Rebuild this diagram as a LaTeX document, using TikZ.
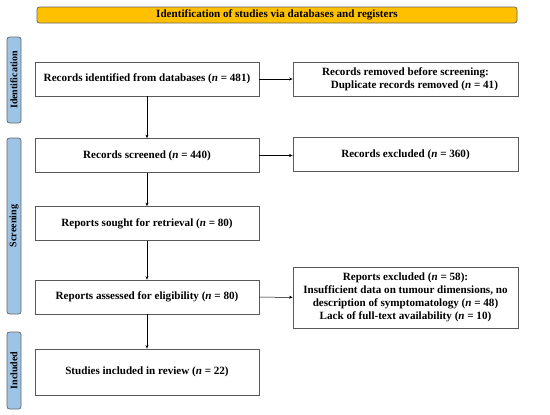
\documentclass[tikz,border=0pt]{standalone}
\usepackage{fontspec}
\setmainfont{Liberation Serif}
\usetikzlibrary{positioning,arrows.meta}

\definecolor{phaseblue}{RGB}{157,195,230}
\definecolor{titlegold}{RGB}{255,192,0}
\tikzset{
 box/.style={draw=black!65,fill=white,line width=.7pt,minimum width=224pt,align=center,inner sep=2pt},
 phase/.style={draw=black!60,fill=phaseblue,line width=.7pt,rounded corners=2.5pt,rotate=90,minimum height=14pt,inner sep=0pt,font=\fontsize{10}{12}\selectfont\bfseries},
 arr/.style={-{Stealth[length=3.5pt,width=3pt]},line width=.5pt}
}

\begin{document}
\begin{tikzpicture}[x=1pt,y=-1pt,font=\fontsize{11.1}{13}\selectfont\bfseries]
\useasboundingbox (0,0) rectangle (550,415);
\node at(277,15)[draw=black!60,fill=titlegold,rounded corners=2.5pt,line width=.7pt,minimum width=480pt,minimum height=16pt,inner sep=0pt](title){Identification of studies via databases and registers};
% phases on the left
\node at(14,80)[phase,minimum width=86pt](ident){Identification};
\node at(14,226)[phase,minimum width=176pt](screen){Screening};
\node at(14,370.5)[phase,minimum width=77pt](incl){Included};
% main column
\node at(147,79)[box,minimum height=34pt](found){Records identified from databases (\textit{n} = 481)};
\node at(147,155.5)[box,minimum height=34pt](screened){Records screened (\textit{n} = 440)};
\node at(147,223.5)[box,minimum height=34pt](sought){Reports sought for retrieval (\textit{n} = 80)};
\node at(147,297)[box,minimum height=34pt](assessed){Reports assessed for eligibility (\textit{n} = 80)};
\node at(147,372)[box,minimum height=46pt](included){Studies included in review (\textit{n} = 22)};
% side column
\node at(405.5,79)[box,minimum width=225pt,minimum height=34pt](removed){Records removed before screening:\\\hspace*{1.6em}Duplicate records removed (\textit{n} = 41)};
\node at(405.5,154.5)[box,minimum width=225pt,minimum height=34pt](excluded){Records excluded (\textit{n} = 360)};
\node at(405.5,297.5)[box,minimum width=225pt,minimum height=61pt](rexcluded){Reports excluded (\textit{n} = 58):\\Insufficient data on tumour dimensions, no\\description of symptomatology (\textit{n} = 48)\\Lack of full-text availability (\textit{n} = 10)};
\foreach \a/\b in {found/screened,screened/sought,sought/assessed,assessed/included}
 \draw[arr](\a)--(\b);
\draw[arr](found)--(removed);
\draw[arr](screened.east)--(excluded.west|-screened.east);
\draw[arr](assessed)--(rexcluded);
\end{tikzpicture}
\end{document}
